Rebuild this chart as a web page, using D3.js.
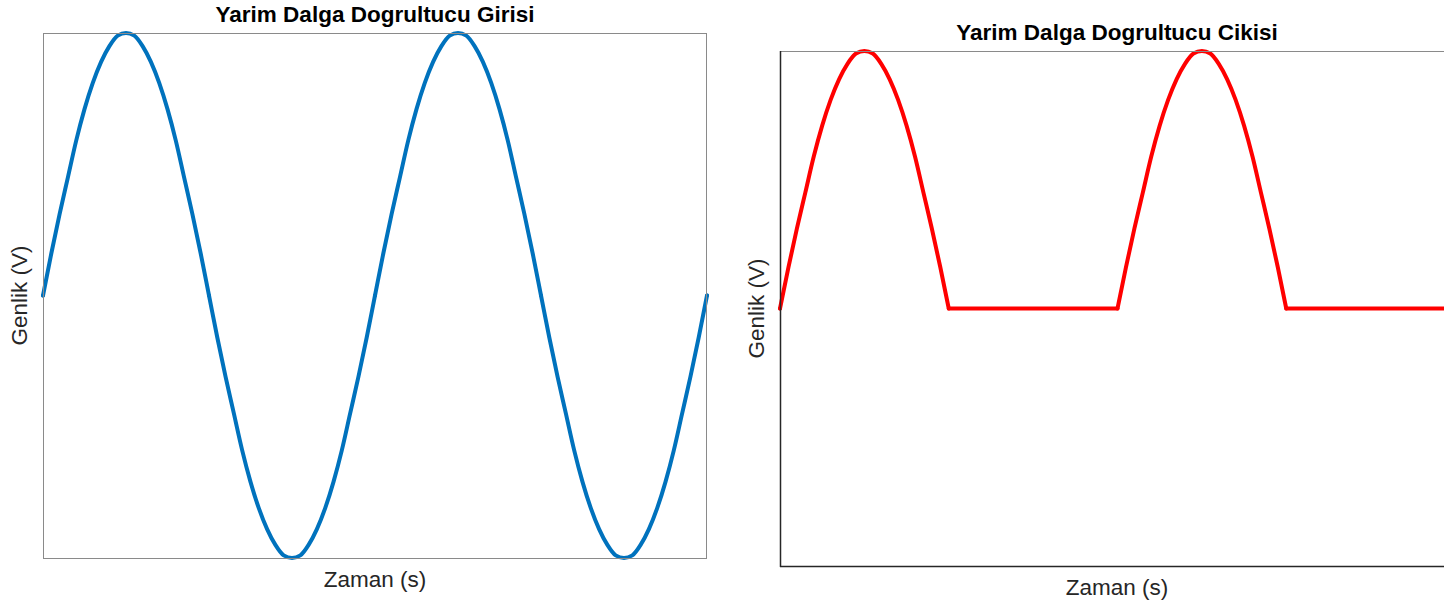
<!DOCTYPE html>
<html>
<head>
<meta charset="utf-8">
<script src="https://cdn.jsdelivr.net/npm/d3@7"></script>
<style>
  body { margin: 0; background: #fff; }
  text { font-family: "Liberation Sans", Arial, sans-serif; }
</style>
</head>
<body>
<div id="chart"></div>
<script>
// time samples (ms), two periods of a 50 Hz wave
const time = [0,0.5,1,1.5,2,2.5,3,3.5,4,4.5,5,5.5,6,6.5,7,7.5,8,8.5,9,9.5,
  10,10.5,11,11.5,12,12.5,13,13.5,14,14.5,15,15.5,16,16.5,17,17.5,18,18.5,19,19.5,
  20,20.5,21,21.5,22,22.5,23,23.5,24,24.5,25,25.5,26,26.5,27,27.5,28,28.5,29,29.5,
  30,30.5,31,31.5,32,32.5,33,33.5,34,34.5,35,35.5,36,36.5,37,37.5,38,38.5,39,39.5,40]

// input voltage
const inputV = [0,0.16,0.31,0.45,0.59,0.71,0.81,0.89,0.95,0.99,1,0.99,0.95,0.89,0.81,0.71,0.59,0.45,0.31,0.16,
  0,-0.16,-0.31,-0.45,-0.59,-0.71,-0.81,-0.89,-0.95,-0.99,-1,-0.99,-0.95,-0.89,-0.81,-0.71,-0.59,-0.45,-0.31,-0.16,
  0,0.16,0.31,0.45,0.59,0.71,0.81,0.89,0.95,0.99,1,0.99,0.95,0.89,0.81,0.71,0.59,0.45,0.31,0.16,
  0,-0.16,-0.31,-0.45,-0.59,-0.71,-0.81,-0.89,-0.95,-0.99,-1,-0.99,-0.95,-0.89,-0.81,-0.71,-0.59,-0.45,-0.31,-0.16,0]

// rectified output
const outputV = [0,0.16,0.31,0.45,0.59,0.71,0.81,0.89,0.95,0.99,1,0.99,0.95,0.89,0.81,0.71,0.59,0.45,0.31,0.16,
  0,0,0,0,0,0,0,0,0,0,0,0,0,0,0,0,0,0,0,0,
  0,0.16,0.31,0.45,0.59,0.71,0.81,0.89,0.95,0.99,1,0.99,0.95,0.89,0.81,0.71,0.59,0.45,0.31,0.16,
  0,0,0,0,0,0,0,0,0,0,0,0,0,0,0,0,0,0,0,0,0]

const titles = ['Yarim Dalga Dogrultucu Girisi', 'Yarim Dalga Dogrultucu Cikisi']
const xLabel = 'Zaman (s)'
const yLabel = 'Genlik (V)'

const svg = d3.select('#chart').append('svg')
  .attr('width', 1444)
  .attr('height', 603)

function panel(opts) {
  const x = d3.scaleLinear().domain(d3.extent(time)).range([opts.left, opts.right])
  const y = d3.scaleLinear().domain([-1, 1]).range([opts.bottom, opts.top])
  const g = svg.append('g')
  const vals = opts.values

  // smooth parts (everything that is not a flat zero run) and flat zero runs
  const nonZero = i => vals[i] !== 0 || vals[i - 1] > 0 || vals[i + 1] > 0 || vals[i - 1] < 0 || vals[i + 1] < 0
  const smooth = d3.line()
    .defined((d, i) => nonZero(i))
    .x((d, i) => x(time[i]))
    .y(d => y(d))
    .curve(d3.curveMonotoneX)
  const flat = d3.line()
    .defined((d, i) => d === 0)
    .x((d, i) => x(time[i]))
    .y(d => y(d))

  g.selectAll('path.trace')
    .data([smooth, flat])
    .join('path')
    .attr('class', 'trace')
    .attr('d', fn => fn(vals))
    .attr('fill', 'none')
    .attr('stroke', opts.color)
    .attr('stroke-width', 4)
    .attr('stroke-linejoin', 'round')
    .attr('stroke-linecap', 'round')

  // axes frame
  g.append('line')
    .attr('x1', opts.left).attr('x2', opts.right)
    .attr('y1', opts.top + 0.5).attr('y2', opts.top + 0.5)
    .attr('stroke', '#8a8a8a').attr('stroke-width', 1)
  g.append('line')
    .attr('x1', opts.right - 0.5).attr('x2', opts.right - 0.5)
    .attr('y1', opts.top).attr('y2', opts.bottom)
    .attr('stroke', '#8a8a8a').attr('stroke-width', 1)
  g.append('line')
    .attr('x1', opts.left + 0.5).attr('x2', opts.left + 0.5)
    .attr('y1', opts.top).attr('y2', opts.bottom + 1)
    .attr('stroke', opts.axisColor).attr('stroke-width', opts.axisWidth)
  g.append('line')
    .attr('x1', opts.left).attr('x2', opts.right)
    .attr('y1', opts.bottom + 0.5).attr('y2', opts.bottom + 0.5)
    .attr('stroke', opts.axisColor).attr('stroke-width', opts.axisWidth)

  const cy = (opts.top + opts.bottom) / 2

  g.append('text')
    .attr('x', opts.titleX).attr('y', opts.titleY)
    .attr('text-anchor', 'middle')
    .attr('font-size', 22.5)
    .attr('font-weight', 'bold')
    .attr('fill', '#000')
    .text(opts.title)

  g.append('text')
    .attr('x', opts.titleX).attr('y', opts.bottom + 29)
    .attr('text-anchor', 'middle')
    .attr('font-size', 22.5)
    .attr('fill', '#262626')
    .text(xLabel)

  g.append('text')
    .attr('transform', 'translate(' + (opts.left - 16) + ',' + cy + ') rotate(-90)')
    .attr('text-anchor', 'middle')
    .attr('font-size', 22.5)
    .attr('fill', '#262626')
    .text(yLabel)
}

panel({
  left: 43, right: 707, top: 33, bottom: 558,
  values: inputV, color: '#0072BD',
  axisColor: '#8a8a8a', axisWidth: 1,
  title: titles[0], titleX: 375, titleY: 22
})

panel({
  left: 780, right: 1455, top: 51, bottom: 566,
  values: outputV, color: '#FF0000',
  axisColor: '#262626', axisWidth: 1.5,
  title: titles[1], titleX: 1117, titleY: 40
})
</script>
</body>
</html>
